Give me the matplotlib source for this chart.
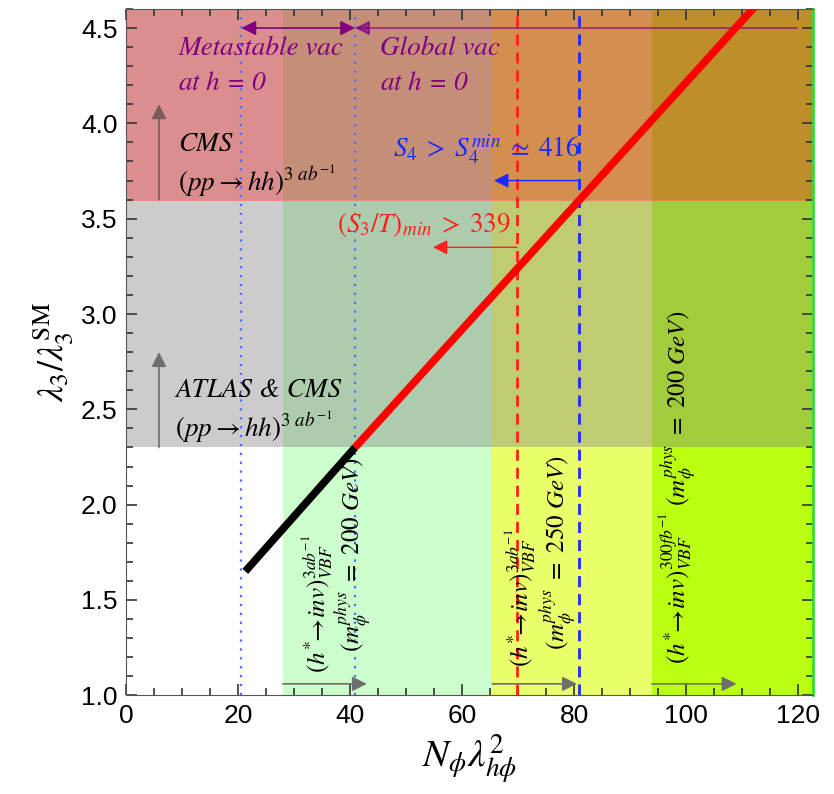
import matplotlib
matplotlib.use('Agg')
import matplotlib.pyplot as plt
from matplotlib.ticker import MultipleLocator

plt.rcParams['mathtext.fontset'] = 'stix'

# vertical bands (x ranges) and their colours
band_edges = [28.0, 65.4, 93.9, 122.6]
band_colors = ['#ccffcc', '#ebff6b', '#bbff11']
# horizontal exclusion bands
atlas_cms_y = 2.3
cms_y = 3.6

# the curve
black_x = [21.3, 40.9]
black_y = [1.65, 2.3]
red_x = [40.9, 112.5]
red_y = [2.3, 4.62]

# vertical lines
dotted_x = [20.5, 40.9]
s3_x = 69.8
s4_x = 80.8

# arrows at bottom (start, end)
bottom_arrows = [(28.0, 43.0), (65.4, 80.5), (93.9, 109.0)]

fig = plt.figure(figsize=(8.34, 7.94), dpi=100)
ax = fig.add_axes([0.151, 0.1243, 0.8235, 0.8644])
xmin, xmax, ymin, ymax = 0, 122.6, 1.0, 4.6

for i, c in enumerate(band_colors):
    ax.axvspan(band_edges[i], band_edges[i + 1], color=c, lw=0, zorder=0)
ax.axhspan(atlas_cms_y, ymax, color=(0.5, 0.5, 0.5), alpha=0.4, lw=0, zorder=1)
ax.axhspan(cms_y, ymax, color='red', alpha=0.3, lw=0, zorder=1)
ax.axhline(cms_y, color='#ff6060', lw=0.8, alpha=0.6, zorder=1)

for x in dotted_x:
    ax.axvline(x, color='#4d6bff', ls=(0, (1, 3)), lw=1.6, zorder=2)
ax.axvline(s3_x, color='#ff2020', ls=(0, (4, 2.5)), lw=2, zorder=2)
ax.axvline(s4_x, color='#1a2bff', ls=(0, (4, 2.5)), lw=2, zorder=2)

ax.plot(black_x, black_y, color='black', lw=5.5, solid_capstyle='butt', zorder=4)
ax.plot(red_x, red_y, color='red', lw=5.5, solid_capstyle='butt', zorder=4)

arrow_gray = dict(arrowstyle='-|>', color='#6e6e6e', lw=1.2, mutation_scale=22, shrinkA=0, shrinkB=0)
for x0, x1 in bottom_arrows:
    ax.annotate('', xy=(x1, 1.06), xytext=(x0, 1.06), arrowprops=arrow_gray, zorder=3)
ax.annotate('', xy=(5.9, 4.1), xytext=(5.9, cms_y), arrowprops=dict(arrow_gray, color='#7a5a5a'), zorder=3)
ax.annotate('', xy=(5.9, 2.8), xytext=(5.9, atlas_cms_y), arrowprops=arrow_gray, zorder=3)

# vacuum arrows
purple = '#800080'
ax.annotate('', xy=(20.6, 4.5), xytext=(40.9, 4.5),
            arrowprops=dict(arrowstyle='<|-|>', color=purple, lw=1.2, mutation_scale=22, shrinkA=0, shrinkB=0), zorder=3)
ax.annotate('', xy=(40.9, 4.5), xytext=(119.8, 4.5),
            arrowprops=dict(arrowstyle='-|>', color=purple, lw=1.2, alpha=0.7, mutation_scale=22, shrinkA=0, shrinkB=0), zorder=3)

# S4 and S3 arrows
ax.annotate('', xy=(65.7, 3.70), xytext=(s4_x, 3.70),
            arrowprops=dict(arrowstyle='-|>', color='#1a2bff', lw=1.0, mutation_scale=22, shrinkA=0, shrinkB=0), zorder=3)
ax.annotate('', xy=(54.8, 3.35), xytext=(s3_x, 3.35),
            arrowprops=dict(arrowstyle='-|>', color='#ff2020', lw=1.0, mutation_scale=22, shrinkA=0, shrinkB=0), zorder=3)

tf = dict(fontfamily='STIXGeneral', style='italic', fontsize=19.5, zorder=5)
ax.text(9.3, 4.39, 'Metastable vac', color=purple, va='center', **tf)
ax.text(9.3, 4.21, 'at $h$ = 0', color=purple, va='center', **tf)
ax.text(45.4, 4.39, 'Global vac', color=purple, va='center', **tf)
ax.text(45.4, 4.21, 'at $h$ = 0', color=purple, va='center', **tf)

ax.text(9.3, 3.89, 'CMS', color='black', va='center', **tf)
ax.text(9.3, 3.70, r'$(pp \rightarrow hh)^{3\ ab^{-1}}$', color='black', va='center', **tf)
ax.text(8.8, 2.60, 'ATLAS & CMS', color='black', va='center', **tf)
ax.text(8.8, 2.41, r'$(pp \rightarrow hh)^{3\ ab^{-1}}$', color='black', va='center', **tf)

ax.text(47.6, 3.86, r'$S_4\;>\;S_4^{min}\;\simeq\;416$', color='#1a2bff', va='center', **tf)
ax.text(37.7, 3.47, r'$(S_3/T)_{min}\;>\;339$', color='#ff2020', va='center', **tf)

rf = dict(rotation=90, ha='center', va='center', fontsize=18, color='black', zorder=5)
ax.text(34.2, 1.48, r'$(h^{*}\!\!\rightarrow\! inv)^{3ab^{-1}}_{VBF}$', **rf)
ax.text(40.5, 1.74, r'$(m_{\phi}^{phys}\ =\ 200\ GeV)$', **rf)
ax.text(70.4, 1.51, r'$(h^{*}\!\!\rightarrow\! inv)^{3ab^{-1}}_{VBF}$', **rf)
ax.text(77.1, 1.75, r'$(m_{\phi}^{phys}\ =\ 250\ GeV)$', **rf)
ax.text(98.6, 2.09, r'$(h^{*}\!\!\rightarrow\! inv)^{300fb^{-1}}_{VBF}\ (m_{\phi}^{phys}\ =\ 200\ GeV)$', **rf)

ax.set_xlim(xmin, xmax)
ax.set_ylim(ymin, ymax)
ax.xaxis.set_major_locator(MultipleLocator(20))
ax.xaxis.set_minor_locator(MultipleLocator(5))
ax.yaxis.set_major_locator(MultipleLocator(0.5))
ax.yaxis.set_minor_locator(MultipleLocator(0.1))
ax.tick_params(which='both', direction='in', top=True, right=True, width=1.2, color='#333333',
               labelsize=19, pad=6)
ax.tick_params(which='major', length=8)
ax.tick_params(which='minor', length=5)
for lab in ax.get_xticklabels() + ax.get_yticklabels():
    lab.set_fontfamily('Liberation Sans')
for s in ax.spines.values():
    s.set_color('#555555')
ax.spines['right'].set_color('#33dd33')
ax.spines['right'].set_linewidth(2)

ax.set_xlabel(r'$N_{\phi}\lambda_{h\phi}^{2}$', fontsize=28, labelpad=4)
ax.set_ylabel(r'$\lambda_3/\lambda_3^{\mathrm{SM}}$', fontsize=26, labelpad=4)

fig.savefig('out.png', dpi=100)
